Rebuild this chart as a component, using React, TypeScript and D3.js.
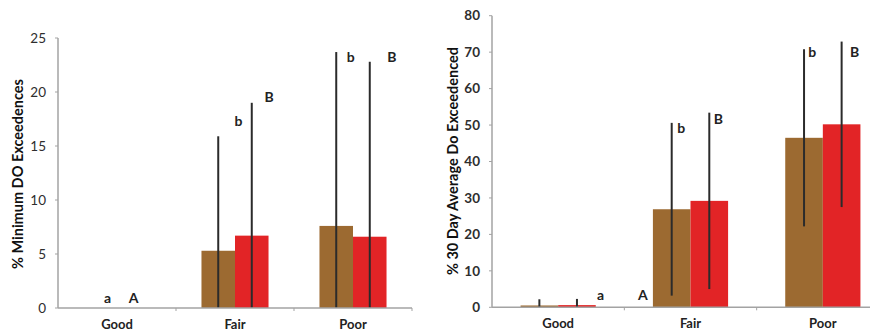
import React from 'react';
import * as d3 from 'd3';

// Stream condition classes shared by both panels
const categories = ['Good', 'Fair', 'Poor'];
const seriesKeys = ['brown', 'red'];

// Panel 1: % minimum DO exceedences (mean and error half-width)
const minDoBrown = [0, 5.3, 7.6];
const minDoBrownErr = [0, 10.6, 16.1];
const minDoRed = [0, 6.7, 6.6];
const minDoRedErr = [0, 12.3, 16.2];
const minDoTicks = [0, 5, 10, 15, 20, 25];

// Panel 2: % 30-day average DO exceedences
const avgDoBrown = [0.5, 26.9, 46.5];
const avgDoBrownErr = [1.7, 23.7, 24.3];
const avgDoRed = [0.6, 29.2, 50.2];
const avgDoRedErr = [1.7, 24.2, 22.7];
const avgDoTicks = [0, 10, 20, 30, 40, 50, 60, 70, 80];

// Significance letters: [category index, band fraction, value]
const minDoLetters: [string, number, number, number][] = [
  ['a', 0, 0.42, 0.9],
  ['A', 0, 0.64, 0.9],
  ['b', 1, 0.53, 17.3],
  ['B', 1, 0.79, 19.5],
  ['b', 2, 0.48, 23.2],
  ['B', 2, 0.83, 23.2],
];
const avgDoLetters: [string, number, number, number][] = [
  ['a', 0, 0.82, 3.3],
  ['A', 0, 1.14, 3.3],
  ['b', 1, 0.43, 49.1],
  ['B', 1, 0.71, 51.7],
  ['b', 2, 0.42, 69.9],
  ['B', 2, 0.74, 69.9],
];

const COLORS: Record<string, string> = { brown: '#9c6a31', red: '#e22426' };
const FONT = 'Lato, "Open Sans", "Liberation Sans", sans-serif';

type PanelProps = {
  left: number;
  right: number;
  top: number;
  bottom: number;
  max: number;
  ticks: number[];
  brown: number[];
  brownErr: number[];
  red: number[];
  redErr: number[];
  letters: [string, number, number, number][];
  title: string;
  titleX: number;
  titleY: number;
  titleLen: number;
  tickBold: boolean;
};

function Panel(p: PanelProps) {
  const y = d3.scaleLinear().domain([0, p.max]).range([p.bottom, p.top]);
  const x = d3.scaleBand<string>().domain(categories).range([p.left, p.right]).padding(0);
  const inner = d3
    .scaleBand<string>()
    .domain(seriesKeys)
    .range([0, x.bandwidth()])
    .paddingInner(0)
    .paddingOuter(0.76);

  const values: Record<string, number[]> = { brown: p.brown, red: p.red };
  const errs: Record<string, number[]> = { brown: p.brownErr, red: p.redErr };
  const axisColor = '#a3a3a3';

  return (
    <g>
      {/* bars */}
      {categories.map((c, i) =>
        seriesKeys.map((k) => {
          const v = values[k][i];
          if (v <= 0) return null;
          const bx = (x(c) ?? 0) + (inner(k) ?? 0);
          return (
            <rect
              key={c + k}
              x={bx}
              y={y(v)}
              width={inner.bandwidth()}
              height={y(0) - y(v)}
              fill={COLORS[k]}
            />
          );
        })
      )}
      {/* error bars */}
      {categories.map((c, i) =>
        seriesKeys.map((k) => {
          const v = values[k][i];
          const e = errs[k][i];
          if (e <= 0) return null;
          const cx = (x(c) ?? 0) + (inner(k) ?? 0) + inner.bandwidth() / 2;
          return (
            <line
              key={'e' + c + k}
              x1={cx}
              x2={cx}
              y1={y(Math.max(0, v - e))}
              y2={y(v + e)}
              stroke="#2b2b2b"
              strokeWidth={2}
            />
          );
        })
      )}
      {/* axes */}
      <line x1={p.left} x2={p.left} y1={y(p.max)} y2={y(0)} stroke={axisColor} strokeWidth={1.5} />
      <line x1={p.left} x2={p.right} y1={y(0)} y2={y(0)} stroke={axisColor} strokeWidth={1.5} />
      {p.ticks.map((t) => (
        <g key={'t' + t}>
          <line x1={p.left - 3} x2={p.left} y1={y(t)} y2={y(t)} stroke={axisColor} strokeWidth={1} />
          <text
            x={p.left - 12}
            y={y(t)}
            dy="0.35em"
            textAnchor="end"
            fontSize={13.5}
            fontWeight={p.tickBold ? 700 : 400}
            fill="#2e2e2e"
            fontFamily={FONT}
          >
            {t}
          </text>
        </g>
      ))}
      {categories.map((c) => (
        <g key={'c' + c}>
          <line
            x1={(x(c) ?? 0) + x.bandwidth()}
            x2={(x(c) ?? 0) + x.bandwidth()}
            y1={y(0)}
            y2={y(0) + 3}
            stroke={axisColor}
            strokeWidth={1}
          />
          <text
            x={(x(c) ?? 0) + x.bandwidth() / 2}
            y={y(0) + 21}
            textAnchor="middle"
            fontSize={13}
            fontWeight={700}
            fill="#222"
            fontFamily={FONT}
          >
            {c}
          </text>
        </g>
      ))}
      {/* significance letters */}
      {p.letters.map(([s, ci, f, v], i) => (
        <text
          key={'l' + i}
          x={(x(categories[ci]) ?? 0) + f * x.bandwidth()}
          y={y(v)}
          dy="0.35em"
          textAnchor="middle"
          fontSize={14}
          fontWeight={700}
          fill="#222"
          fontFamily={FONT}
        >
          {s}
        </text>
      ))}
      {/* y-axis title */}
      <text
        transform={`translate(${p.titleX},${p.titleY}) rotate(-90)`}
        textAnchor="middle"
        dy="0.35em"
        fontSize={14.5}
        fontWeight={700}
        fill="#111"
        fontFamily={FONT}
        textLength={p.titleLen}
        lengthAdjust="spacingAndGlyphs"
      >
        {p.title}
      </text>
    </g>
  );
}

export default function App() {
  return (
    <svg
      width={870}
      height={335}
      style={{ position: 'absolute', left: 0, top: 0, background: '#fff' }}
    >
      <rect width={870} height={335} fill="#fff" />
      <Panel
        left={58}
        right={412}
        top={38}
        bottom={308}
        max={25}
        ticks={minDoTicks}
        brown={minDoBrown}
        brownErr={minDoBrownErr}
        red={minDoRed}
        redErr={minDoRedErr}
        letters={minDoLetters}
        title="% Minimum DO Exceedences"
        titleX={18}
        titleY={174}
        titleLen={190}
        tickBold={false}
      />
      <Panel
        left={492}
        right={889}
        top={15.7}
        bottom={307.3}
        max={80}
        ticks={avgDoTicks}
        brown={avgDoBrown}
        brownErr={avgDoBrownErr}
        red={avgDoRed}
        redErr={avgDoRedErr}
        letters={avgDoLetters}
        title="% 30 Day Average Do Exceedenced"
        titleX={453}
        titleY={161}
        titleLen={228}
        tickBold={true}
      />
    </svg>
  );
}
